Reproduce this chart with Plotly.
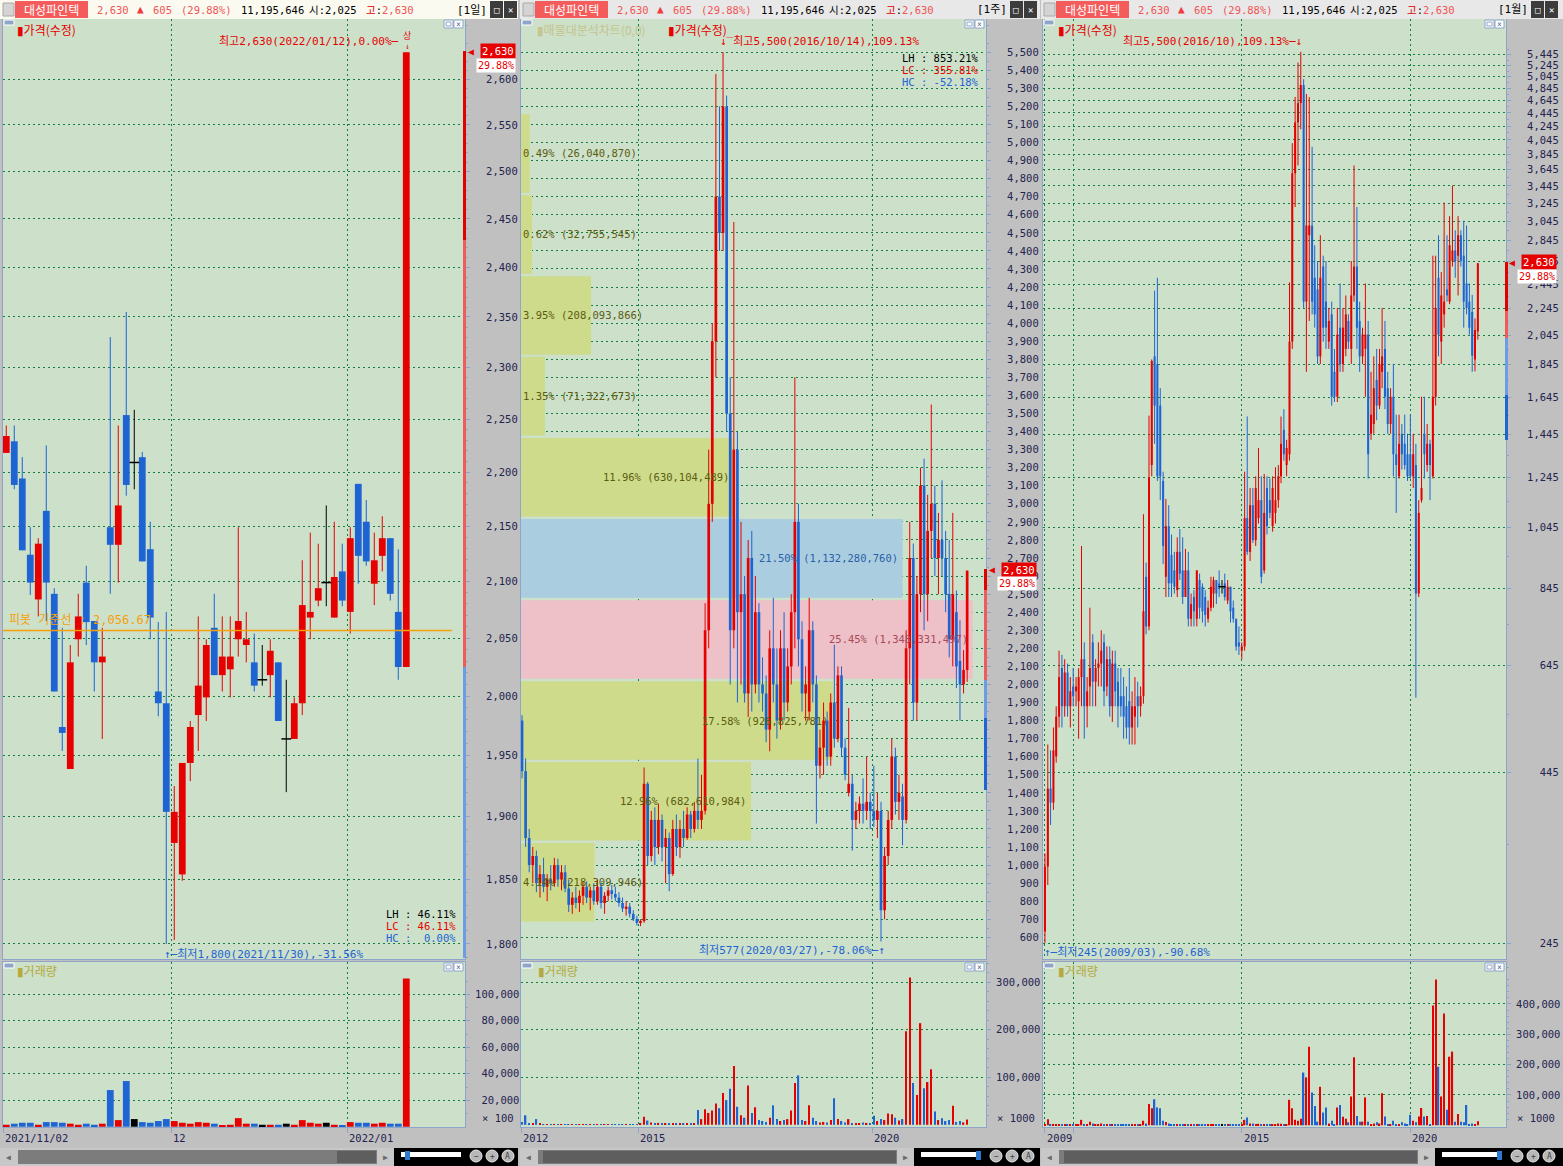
import math
import pandas as pd
import plotly.graph_objects as go

W, H = 1563, 1166
UP, DN, FLAT = "#e60000", "#1e64d2", "#000000"
PLOT_BG = "#cce0ca"
PAPER_BG = "#c0c0c0"
GRID = "#11803f"
GDASH = "2px,3px"
FRAME = "#8ea4c8"
TICK_C = "#23234f"
MONO = "DejaVu Sans Mono, Noto Sans CJK KR, sans-serif"
KR = "Noto Sans CJK KR, DejaVu Sans, sans-serif"
NB = "\u00a0"
DAY = 86400000


def fx(p):
    return p / W


def fy(p):
    return 1 - p / H


# ======================= DATA =======================
stock_name = "대성파인텍"
periods = ["[1일]", "[1주]", "[1월]"]

# ---- daily (1일) ----
d_dates = ["2021-11-02", "2021-11-03", "2021-11-04", "2021-11-05", "2021-11-08", "2021-11-09", "2021-11-10",
           "2021-11-11", "2021-11-12", "2021-11-15", "2021-11-16", "2021-11-17", "2021-11-18", "2021-11-19",
           "2021-11-22", "2021-11-23", "2021-11-24", "2021-11-25", "2021-11-26", "2021-11-29", "2021-11-30",
           "2021-12-01", "2021-12-02", "2021-12-03", "2021-12-06", "2021-12-07", "2021-12-08", "2021-12-09",
           "2021-12-10", "2021-12-13", "2021-12-14", "2021-12-15", "2021-12-16", "2021-12-17", "2021-12-20",
           "2021-12-21", "2021-12-22", "2021-12-23", "2021-12-24", "2021-12-27", "2021-12-28", "2021-12-29",
           "2021-12-30", "2022-01-03", "2022-01-04", "2022-01-05", "2022-01-06", "2022-01-07", "2022-01-10",
           "2022-01-11", "2022-01-12"]
d_open = [2218, 2229, 2194, 2124, 2084, 2164, 2089, 1974, 1939, 2049, 2099, 2065, 2029, 2149, 2133, 2254, 2209,
          2214, 2129, 2004, 1994, 1879, 1854, 1944, 1984, 1999, 2059, 2018, 2023, 2049, 2044, 2029, 2014, 2018,
          2029, 1964, 1964, 1994, 2068, 2083, 2099, 2068, 2109, 2073, 2189, 2154, 2098, 2123, 2139, 2073, 2025]
d_high = [2244, 2244, 2214, 2149, 2139, 2225, 2094, 2059, 2044, 2089, 2114, 2065, 2059, 2330, 2244, 2355, 2259,
          2219, 2154, 2064, 2073, 1925, 1944, 1979, 2069, 2049, 2089, 2069, 2069, 2149, 2073, 2054, 2044, 2049,
          2029, 2014, 1999, 2119, 2144, 2134, 2169, 2154, 2134, 2149, 2189, 2174, 2144, 2159, 2139, 2129, 2630]
d_low = [2218, 2184, 2128, 2088, 2069, 2065, 2004, 1954, 1939, 2034, 2044, 2004, 1964, 2089, 2099, 2178, 2184,
         2118, 2049, 1983, 1800, 1803, 1849, 1929, 1954, 1979, 2018, 2004, 1999, 2034, 2029, 2004, 2009, 1999,
         1979, 1920, 1964, 1984, 2049, 2078, 2078, 2068, 2078, 2054, 2098, 2114, 2079, 2109, 2083, 2014, 2025]
d_close = [2234, 2188, 2128, 2099, 2134, 2099, 2004, 1969, 2029, 2069, 2064, 2029, 2034, 2133, 2169, 2188, 2209,
           2118, 2068, 1994, 1904, 1904, 1944, 1974, 2009, 2044, 2018, 2034, 2034, 2065, 2049, 2009, 2014, 2039,
           1979, 1964, 1994, 2079, 2073, 2094, 2099, 2104, 2083, 2139, 2123, 2118, 2119, 2139, 2089, 2025, 2630]
d_vol = [1500, 2300, 3000, 3000, 1500, 3500, 3500, 3000, 2300, 1500, 2300, 1500, 2300, 27700, 5000, 34500, 5800,
         3500, 3000, 4300, 5800, 4300, 3000, 2300, 3500, 3000, 2300, 800, 1500, 6500, 2300, 2300, 1500, 1500,
         1500, 2300, 1500, 5000, 3000, 2300, 3000, 1500, 800, 3500, 3000, 3000, 2300, 3000, 2300, 2300, 111956]
d_tick_dates = ["2021-11-02", "2021-12-01", "2022-01-03"]
d_tick_text = ["2021/11/02", "12", "2022/01"]
d_price_ticks = list(range(1800, 2601, 50))
d_vol_ticks = [20000, 40000, 60000, 80000, 100000]
pivot_value = 2056.67

# ---- weekly (1주), one entry per 4 weeks ----
w_dates = pd.date_range("2012-07-09", periods=125, freq="28D")
w_open = [1800, 1520, 1150, 1000, 1050, 900, 950, 880, 920, 900,
          1000, 920, 960, 870, 780, 820, 790, 830, 880, 820,
          860, 800, 880, 790, 830, 860, 840, 820, 790, 760,
          770, 730, 700, 680, 690, 1450, 1050, 1250, 1100, 1250,
          1100, 1150, 950, 1200, 1100, 1200, 1150, 1280, 1200, 1300,
          1250, 1300, 2300, 3000, 3900, 4700, 4500, 5200, 3500, 2300,
          3300, 2400, 2500, 1950, 2700, 2000, 2400, 2000, 1950, 1750,
          2200, 2000, 1800, 2200, 1900, 2100, 2400, 2900, 2250, 1950,
          1850, 2300, 2000, 1550, 1650, 1800, 1600, 1900, 1700, 2050,
          1650, 1400, 1450, 1250, 1300, 1340, 1300, 1350, 1300, 1250,
          1300, 750, 1050, 1250, 1600, 1350, 1380, 1250, 2200, 2700,
          1900, 2500, 3100, 2500, 2850, 3000, 2700, 2800, 2700, 2500,
          2250, 2400, 2130, 2000, 2080]
w_high = [1830, 1590, 1200, 1100, 1080, 1000, 1040, 950, 1000, 1040,
          1035, 1000, 1000, 920, 850, 880, 860, 910, 910, 880,
          900, 920, 900, 850, 880, 890, 880, 850, 820, 800,
          790, 750, 720, 700, 1540, 1460, 1300, 1320, 1340, 1280,
          1200, 1180, 1250, 1280, 1250, 1300, 1320, 1300, 1350, 1590,
          1500, 2450, 3300, 4000, 5380, 5200, 5500, 5260, 3700, 4560,
          3400, 2900, 2600, 2800, 2850, 2600, 2450, 2150, 2050, 2300,
          2480, 2200, 2300, 2400, 2200, 2500, 3700, 3000, 2350, 2100,
          2480, 2350, 2050, 1750, 1900, 1850, 1950, 2220, 2100, 2100,
          1700, 1870, 1500, 1350, 1380, 1480, 1600, 1400, 1550, 1400,
          1350, 1100, 1300, 1700, 1650, 1500, 1450, 2300, 2900, 2780,
          2600, 3200, 3250, 3050, 3550, 3100, 2950, 3130, 2850, 2800,
          2950, 2520, 2355, 2190, 2630]
w_low = [1480, 1100, 960, 900, 850, 820, 850, 800, 860, 880,
         880, 860, 850, 740, 730, 760, 740, 780, 790, 750,
         780, 780, 760, 730, 800, 810, 800, 770, 740, 720,
         710, 690, 665, 662, 680, 1000, 1020, 1000, 1060, 1020,
         900, 855, 940, 1050, 1040, 1100, 1140, 1150, 1180, 1200,
         1200, 1280, 2200, 2900, 3700, 4400, 4400, 3400, 2000, 2200,
         1900, 2000, 1900, 1820, 1850, 1950, 1900, 1850, 1680, 1630,
         1900, 1700, 1750, 1800, 1850, 2000, 2200, 2100, 1850, 1800,
         1800, 1900, 1230, 1480, 1500, 1550, 1550, 1650, 1680, 1600,
         1470, 1380, 1080, 1200, 1230, 1230, 1250, 1200, 1210, 1150,
         577, 700, 1000, 1200, 1280, 1250, 1110, 1230, 2000, 1800,
         1800, 2400, 2300, 2350, 2700, 2600, 2500, 2600, 2400, 2150,
         2100, 1980, 1800, 1950, 2014]
w_close = [1520, 1150, 1000, 1050, 900, 950, 880, 920, 900, 1000,
           920, 960, 870, 780, 820, 790, 830, 880, 820, 860,
           800, 880, 790, 830, 860, 840, 820, 790, 760, 770,
           730, 700, 680, 690, 1450, 1050, 1250, 1100, 1250, 1100,
           1150, 950, 1200, 1100, 1200, 1150, 1280, 1200, 1300, 1250,
           1300, 2300, 3000, 3900, 4700, 4500, 5200, 3500, 2300, 3300,
           2400, 2500, 1950, 2700, 2000, 2400, 2000, 1950, 1750, 2200,
           2000, 1800, 2200, 1900, 2100, 2400, 2900, 2250, 1950, 2000,
           2300, 2000, 1550, 1650, 1800, 1600, 1900, 1700, 2050, 1650,
           1500, 1450, 1250, 1300, 1340, 1300, 1350, 1300, 1250, 1300,
           750, 1050, 1250, 1600, 1350, 1400, 1250, 2200, 2700, 1900,
           2500, 3100, 2500, 2850, 3000, 2700, 2800, 2700, 2500, 2250,
           2500, 2100, 2000, 2080, 2630]
w_vol = [6000, 20000, 4000, 3000, 12000, 2000, 1500, 1500, 1000, 1500,
         1000, 1000, 1000, 1500, 1000, 1000, 1000, 1200, 1000, 1000,
         1000, 1000, 1000, 1000, 1000, 1000, 1000, 1000, 1000, 1000,
         1200, 1500, 1500, 2000, 17000, 9000, 5000, 3000, 4000, 2500,
         3000, 4000, 2000, 2000, 2000, 3000, 2000, 2500, 3000, 31000,
         12000, 33000, 25000, 30000, 45000, 35000, 67000, 52000, 76000, 124000,
         38000, 20000, 15000, 83000, 25000, 37000, 10000, 8000, 6000, 15000,
         41000, 12000, 8000, 10000, 12000, 30000, 88000, 104000, 10000, 8000,
         41000, 15000, 8000, 5000, 6000, 5000, 10000, 56000, 12000, 8000,
         5000, 12000, 4000, 3000, 3000, 5000, 4000, 3000, 19000, 8000,
         12000, 10000, 24000, 22000, 15000, 9000, 12000, 197000, 310000, 88000,
         63000, 214000, 77000, 90000, 117000, 28000, 10000, 14000, 8000, 10000,
         40000, 6000, 8000, 5000, 11196]
w_tick_dates = ["2012-07-04", "2015-01-01", "2020-01-01"]
w_tick_text = ["2012", "2015", "2020"]
w_price_ticks = list(range(600, 5501, 100))
w_vol_ticks = [100000, 200000, 300000]

# volume profile (매물대)
vp_price = [4940, 4491, 4043, 3596, 3147, 2698, 2249, 1800, 1353, 905]
vp_pct = [0.49, 0.62, 3.95, 1.35, 11.96, 21.50, 25.45, 17.58, 12.96, 4.14]
vp_vol = [26040870, 32755545, 208093866, 71322673, 630104489, 1132280760, 1348331497, 926825781,
          682610984, 218309946]
vp_band = 435

# ---- monthly (1월) ----
m_dates = pd.date_range("2009-03-01", periods=155, freq="MS")
m_open = [255, 320, 420, 400, 470, 540, 640, 560, 630, 560,
          600, 590, 570, 620, 660, 560, 600, 700, 610, 640,
          650, 700, 600, 660, 560, 650, 610, 580, 580, 560,
          570, 520, 540, 580, 560, 580, 880, 740, 1300, 1900,
          1850, 1600, 1230, 880, 1050, 950, 900, 840, 960, 900,
          820, 900, 760, 820, 760, 870, 850, 820, 760, 790,
          830, 870, 860, 850, 860, 810, 850, 790, 760, 700,
          680, 690, 1080, 960, 1130, 1000, 1080, 1150, 900, 1200,
          1150, 1050, 1100, 1150, 1250, 1470, 1300, 1350, 2000, 3600,
          4300, 4600, 4900, 2300, 2900, 3000, 2500, 2400, 1900, 2600,
          2300, 2000, 2200, 1800, 1650, 2100, 1850, 1950, 2150, 1950,
          2350, 2600, 2150, 1900, 1950, 2050, 1450, 1500, 1750, 1600,
          1800, 1950, 1700, 1500, 1650, 1350, 1250, 1450, 1400, 1350,
          1350, 1250, 1300, 830, 1150, 1450, 1300, 1400, 1250, 1650,
          2500, 2000, 2200, 2400, 2300, 2650, 2750, 2700, 2900, 2700,
          2450, 2300, 2218, 1879, 2073]
m_high = [335, 490, 480, 520, 560, 680, 670, 660, 650, 620,
          640, 620, 640, 980, 700, 620, 790, 720, 660, 700,
          730, 720, 690, 690, 680, 680, 640, 640, 620, 600,
          640, 590, 620, 610, 600, 1095, 925, 1545, 1880, 2390,
          2500, 1700, 1270, 1155, 1130, 1020, 960, 1010, 1040, 1010,
          970, 960, 830, 840, 900, 890, 860, 840, 810, 880,
          880, 870, 900, 870, 890, 870, 850, 810, 760, 740,
          700, 1270, 1540, 1200, 1200, 1250, 1380, 1250, 1260, 1250,
          1240, 1250, 1290, 1300, 1540, 1580, 1420, 2460, 4000, 4700,
          5300, 5500, 5000, 4750, 4700, 3950, 2800, 2650, 2900, 2700,
          2650, 2250, 2300, 1950, 2250, 2450, 2250, 2350, 2200, 2650,
          3700, 3200, 2300, 2100, 2450, 2150, 1800, 1900, 1950, 1950,
          2250, 2150, 1800, 1700, 1850, 1550, 1550, 1500, 1550, 1450,
          1550, 1450, 1400, 1150, 1650, 1650, 1500, 1420, 2700, 2700,
          2900, 2550, 3250, 2900, 3100, 3450, 2950, 3100, 2950, 3050,
          3000, 2450, 2355, 2169, 2630]
m_low = [245, 300, 370, 390, 460, 520, 520, 540, 540, 520,
         560, 560, 500, 560, 500, 520, 560, 560, 560, 600,
         600, 560, 580, 540, 530, 560, 520, 540, 500, 500,
         490, 490, 490, 520, 540, 565, 720, 730, 1250, 1400,
         1230, 1150, 920, 820, 820, 820, 830, 820, 870, 800,
         820, 740, 740, 740, 740, 760, 750, 740, 750, 780,
         790, 800, 820, 830, 810, 800, 750, 750, 680, 670,
         660, 680, 950, 930, 990, 980, 1060, 860, 890, 1020,
         1080, 1030, 1060, 1120, 1220, 1320, 1250, 1320, 1950, 3200,
         3700, 4200, 2250, 1800, 2150, 2200, 2100, 1850, 1850, 2000,
         1950, 1950, 1600, 1620, 1620, 1800, 1800, 1900, 1950, 1850,
         2300, 1950, 1800, 1850, 1650, 1240, 1420, 1450, 1520, 1580,
         1700, 1580, 1450, 1450, 1250, 1100, 1240, 1280, 1280, 1230,
         1240, 1200, 577, 820, 1140, 1240, 1270, 1150, 1240, 1600,
         1900, 1850, 2100, 2300, 2280, 2600, 2500, 2350, 2600, 2100,
         2200, 2050, 1800, 1803, 2014]
m_close = [320, 420, 400, 480, 540, 620, 560, 630, 560, 590,
           580, 600, 620, 660, 560, 590, 640, 610, 640, 650,
           680, 590, 660, 560, 650, 590, 560, 560, 540, 520,
           520, 560, 560, 560, 580, 780, 740, 1245, 1870, 1600,
           1250, 1250, 980, 1050, 860, 860, 850, 960, 890, 820,
           900, 760, 800, 780, 900, 790, 780, 770, 790, 850,
           870, 830, 850, 850, 820, 850, 780, 760, 690, 690,
           690, 1080, 960, 1130, 1000, 1200, 1150, 880, 1100, 1050,
           1100, 1200, 1150, 1250, 1400, 1350, 1380, 2000, 3600, 4300,
           4600, 4900, 2300, 3000, 3000, 2300, 2200, 1900, 2500, 2100,
           2100, 2150, 1650, 1650, 2050, 1850, 2100, 2200, 2000, 2350,
           2600, 2100, 1900, 2050, 2050, 1350, 1550, 1700, 1600, 1850,
           1900, 1650, 1500, 1650, 1350, 1300, 1400, 1350, 1300, 1250,
           1250, 1350, 830, 1100, 1200, 1350, 1400, 1300, 1650, 2250,
           2050, 2350, 2300, 2350, 2800, 2750, 2650, 2900, 2650, 2300,
           2250, 2100, 1904, 2083, 2630]
m_vol = [3000, 20000, 3000, 2000, 2000, 4000, 4000, 3000, 3000, 2000,
         2000, 2000, 2000, 18000, 4000, 2000, 12000, 6000, 2000, 2000,
         6000, 2000, 2000, 2000, 2000, 2000, 2000, 2000, 2000, 2000,
         3000, 2000, 2000, 2000, 2000, 15000, 6000, 70000, 56000, 86000,
         59000, 56000, 15000, 11000, 6000, 4000, 3000, 2000, 4000, 2000,
         4000, 2000, 2000, 2000, 2000, 2000, 2000, 2000, 2000, 2000,
         2000, 2000, 2000, 2000, 2000, 2000, 2000, 2000, 2000, 2000,
         2000, 18000, 26000, 6000, 6000, 3000, 5000, 3000, 2000, 2000,
         3000, 2000, 2000, 6000, 5000, 4000, 2000, 84000, 56000, 18000,
         15000, 22000, 174000, 158000, 259000, 108000, 64000, 12000, 127000, 42000,
         59000, 6000, 15000, 4000, 59000, 67000, 28000, 22000, 10000, 95000,
         224000, 31000, 12000, 12000, 92000, 12000, 4000, 6000, 10000, 6000,
         106000, 29000, 4000, 2000, 15000, 2000, 4000, 10000, 6000, 3000,
         35000, 15000, 10000, 29000, 57000, 29000, 31000, 4000, 395000, 481000,
         193000, 95000, 369000, 51000, 226000, 243000, 12000, 37000, 12000, 10000,
         67000, 4000, 6000, 2000, 13000]
m_tick_dates = ["2009-03-01", "2010-01-01", "2015-01-01", "2020-01-01"]
m_tick_text = ["2009", "", "2015", "2020"]
m_price_ticks = list(range(245, 5446, 200))
m_vol_ticks = [100000, 200000, 300000, 400000]

assert len(d_dates) == len(d_open) == len(d_high) == len(d_low) == len(d_close) == len(d_vol) == 51
assert len(w_open) == len(w_high) == len(w_low) == len(w_close) == len(w_vol) == 125
assert len(m_open) == len(m_high) == len(m_low) == len(m_close) == len(m_vol) == 155

# ======================= FIGURE =======================
fig = go.Figure()


def ccolor(o, c):
    return UP if c > o else (DN if c < o else FLAT)


def add_candles(x, o, h, l, c, xa, ya, body_w, wick_w=1, doji=6):
    groups = {UP: [], DN: [], FLAT: []}
    for i in range(len(x)):
        groups[ccolor(o[i], c[i])].append(i)
    for col, idx in groups.items():
        if not idx:
            continue
        wx, wy = [], []
        for i in idx:
            wx += [x[i], x[i], None]
            wy += [l[i], h[i], None]
        fig.add_trace(go.Scatter(x=wx, y=wy, mode="lines", line=dict(color=col, width=wick_w),
                                 xaxis=xa, yaxis=ya, hoverinfo="skip", showlegend=False))
        if col == FLAT:
            fig.add_trace(go.Scatter(x=[x[i] for i in idx], y=[c[i] for i in idx], mode="markers",
                                     marker=dict(symbol="line-ew", size=doji, color=col,
                                                 line=dict(color=col, width=1.5)),
                                     xaxis=xa, yaxis=ya, hoverinfo="skip", showlegend=False))
        else:
            fig.add_trace(go.Bar(x=[x[i] for i in idx], y=[abs(c[i] - o[i]) for i in idx],
                                 base=[min(o[i], c[i]) for i in idx], width=body_w,
                                 marker=dict(color=col, line=dict(width=0)),
                                 xaxis=xa, yaxis=ya, hoverinfo="skip", showlegend=False))


def add_volume(x, o, c, v, xa, ya, width):
    fig.add_trace(go.Bar(x=x, y=v, width=width,
                         marker=dict(color=[ccolor(o[i], c[i]) for i in range(len(x))], line=dict(width=0)),
                         xaxis=xa, yaxis=ya, hoverinfo="skip", showlegend=False))


# --- volume profile on middle price panel (base axis x3) ---
vp_fill = ["#cddb8a"] * 5 + ["#aacee0", "#eec0c8"] + ["#cddb8a"] * 3
fig.add_trace(go.Bar(orientation="h", y=vp_price, x=vp_pct, base=0, width=vp_band,
                     marker=dict(color=vp_fill, line=dict(width=0)),
                     xaxis="x3", yaxis="y3", hoverinfo="skip", showlegend=False))

# --- daily ---
d_x = list(range(len(d_dates)))
add_candles(d_x, d_open, d_high, d_low, d_close, "x", "y", 0.85, 1, 7)
add_volume(d_x, d_open, d_close, d_vol, "x2", "y2", 0.85)
fig.add_trace(go.Scatter(x=[-0.41, 55.7], y=[pivot_value, pivot_value], mode="lines",
                         line=dict(color="#f5a00a", width=1.5), xaxis="x", yaxis="y",
                         hoverinfo="skip", showlegend=False))

# --- weekly ---
w_x = [d.strftime("%Y-%m-%d") for d in w_dates]
add_candles(w_x, w_open, w_high, w_low, w_close, "x4", "y3", 21 * DAY, 1, 5)
add_volume(w_x, w_open, w_close, w_vol, "x5", "y5", 11 * DAY)

# --- monthly ---
m_x = [d.strftime("%Y-%m-%d") for d in m_dates]
add_candles(m_x, m_open, m_high, m_low, m_close, "x6", "y6", 22 * DAY, 1, 5)
add_volume(m_x, m_open, m_close, m_vol, "x7", "y7", 14 * DAY)

# ======================= AXES =======================
L_X = [fx(3), fx(465)]
M_X = [fx(521), fx(986)]
R_X = [fx(1043), fx(1506)]
P_Y = [fy(959), fy(19)]
V_Y = [fy(1127), fy(962)]


def xgrid(domain, anchor, rng, tickvals, typ="linear", ticks=""):
    return dict(domain=domain, anchor=anchor, range=rng, type=typ, tickmode="array", tickvals=tickvals,
                showticklabels=False, ticks=ticks, ticklen=5, tickcolor=FRAME, showgrid=True,
                gridcolor=GRID, griddash=GDASH, gridwidth=1, zeroline=False, showline=True,
                linecolor=FRAME, mirror=True, fixedrange=True)


def yax(domain, anchor, rng, vals, nchar, standoff, minor_vals, typ="linear"):
    return dict(domain=domain, anchor=anchor, range=rng, type=typ, side="right", tickmode="array",
                tickvals=vals, ticktext=[f"{v:,}".rjust(nchar, NB) for v in vals],
                ticks="outside", ticklen=4, tickcolor=FRAME, tickwidth=1,
                tickfont=dict(family=MONO, size=10.5, color=TICK_C), ticklabelstandoff=standoff,
                minor=dict(tickmode="array", tickvals=minor_vals, ticks="outside", ticklen=2,
                           tickcolor=FRAME, showgrid=False),
                showgrid=True, gridcolor=GRID, griddash=GDASH, gridwidth=1, zeroline=False,
                showline=True, linecolor=FRAME, mirror=True, fixedrange=True)


d_grid = [d_dates.index(t) - 0.35 for t in d_tick_dates]
w_range = ["2012-07-01", "2022-06-06"]
m_range = ["2009-02-08", "2022-11-02"]

layout_axes = dict(
    xaxis=xgrid(L_X, "y", [-0.41, 57.34], d_grid),
    yaxis=yax(P_Y, "x", [math.log10(1788.5), math.log10(2667.5)], d_price_ticks, 5, 14,
              [v for v in range(1790, 2670, 10) if v % 50], "log"),
    xaxis2=xgrid(L_X, "y2", [-0.41, 57.34], d_grid, ticks="outside"),
    yaxis2=yax(V_Y, "x2", [-200, 124400], d_vol_ticks, 7, 3,
               [v for v in range(10000, 120001, 10000) if v % 20000]),
    xaxis3=dict(domain=M_X, anchor="y3", range=[0, 26.2], showgrid=False, showticklabels=False, ticks="",
                zeroline=False, showline=True, linecolor=FRAME, mirror=True, fixedrange=True),
    xaxis4=dict(overlaying="x3", anchor="y3", type="date", range=w_range, tickmode="array",
                tickvals=w_tick_dates, showticklabels=False, ticks="", showgrid=True, gridcolor=GRID,
                griddash=GDASH, zeroline=False, showline=False, fixedrange=True),
    yaxis3=yax(P_Y, "x3", [480, 5684], w_price_ticks, 5, 14,
               [v for v in range(550, 5651, 50) if v % 100]),
    xaxis5=xgrid(M_X, "y5", w_range, w_tick_dates, "date", ticks="outside"),
    yaxis5=yax(V_Y, "x5", [-4600, 342700], w_vol_ticks, 7, 3,
               [v for v in range(20000, 340001, 20000) if v % 100000]),
    xaxis6=xgrid(R_X, "y6", m_range, m_tick_dates, "date"),
    yaxis6=yax(P_Y, "x6", [math.log10(231.7), math.log10(6170)], m_price_ticks, 5, 14,
               [v + 100 for v in m_price_ticks], "log"),
    xaxis7=xgrid(R_X, "y7", m_range, m_tick_dates, "date", ticks="outside"),
    yaxis7=yax(V_Y, "x7", [-5600, 538400], m_vol_ticks, 7, 3,
               [v for v in range(20000, 520001, 20000) if v % 100000]),
)

# ======================= ANNOTATIONS / DECOR =======================
anns = []
shapes = []


def pann(text, x, y, color, size=11, family=MONO, xanchor="left", yanchor="middle", **kw):
    d = dict(text=text, x=fx(x), y=fy(y), xref="paper", yref="paper", xanchor=xanchor, yanchor=yanchor,
             showarrow=False, font=dict(family=family, size=size, color=color))
    d.update(kw)
    return d


def rect(x0, y0, x1, y1, fill, line=None, lw=1):
    shapes.append(dict(type="rect", xref="paper", yref="paper", x0=fx(x0), x1=fx(x1), y0=fy(y1), y1=fy(y0),
                       fillcolor=fill, line=dict(color=line or fill, width=lw if line else 0)))


def vseg(x, y0, y1, color, w=3):
    shapes.append(dict(type="line", xref="paper", yref="paper", x0=fx(x), x1=fx(x), y0=fy(y0), y1=fy(y1),
                       line=dict(color=color, width=w)))


def circ(cx, cy, r, fill, line):
    shapes.append(dict(type="circle", xref="paper", yref="paper", x0=fx(cx - r), x1=fx(cx + r),
                       y0=fy(cy + r), y1=fy(cy - r), fillcolor=fill, line=dict(color=line, width=1)))


# headers + scrollbars
cols = [(0, 518, "#fbfaf0", 337, 376, 407), (520, 520, "#e8e8e8", 23, 376, 458),
        (1041, 522, "#e8e8e8", 23, 376, 458)]
for k, (ox, cw, hbg, th0, th1, knob) in enumerate(cols):
    rect(ox, 0, ox + cw, 19, hbg)
    rect(ox + 3, 3, ox + 14, 16, "#d4d4d4", "#a8a8a8")
    rect(ox + 15, 1, ox + 88, 18, "#f45c5c")
    anns.append(pann(stock_name, ox + 51.5, 9.5, "#ffffff", 12, KR, "center"))
    anns.append(pann("2,630", ox + 95, 9.5, "#f05555", 10.5))
    anns.append(pann("▲", ox + 140, 9.5, "#f03c3c", 11, MONO, "center"))
    anns.append(pann("605", ox + 151, 9.5, "#f05555", 10.5))
    anns.append(pann("(29.88%)", ox + 179, 9.5, "#f05555", 10.5))
    anns.append(pann("11,195,646", ox + 239, 9.5, "#000000", 10.5))
    anns.append(pann("시:2,025", ox + 307, 9.5, "#000000", 10.5))
    anns.append(pann("<span style='color:#e00000'>고</span>:<span style='color:#f05555'>2,630</span>",
                     ox + 364, 9.5, "#000000", 10.5))
    anns.append(pann(periods[k], ox + 489, 9.5, "#000000", 11, MONO, "right"))
    rect(ox + 490, 1, ox + 503, 18, "#3c3c3c")
    rect(ox + 504, 1, ox + 517, 18, "#3c3c3c")
    anns.append(pann("□", ox + 496.5, 9.5, "#ffffff", 9, MONO, "center"))
    anns.append(pann("✕", ox + 510.5, 9.5, "#ffffff", 9, MONO, "center"))
    # scroll bar
    rect(ox, 1148, ox + cw, 1166, "#c8c8c8")
    anns.append(pann("◀", ox + 8, 1157, "#6a6a6a", 8, MONO, "center"))
    rect(ox + 18, 1150, ox + 377, 1164, "#7c7c7c")
    rect(ox + th0, 1151, ox + th1, 1163, "#5e5e5e")
    anns.append(pann("▶", ox + 385, 1157, "#6a6a6a", 8, MONO, "center"))
    rect(ox + 394, 1148, ox + cw, 1166, "#000000")
    rect(ox + 401, 1152, ox + 461, 1157, "#ffffff")
    rect(ox + knob - 2, 1151, ox + knob + 3, 1160, "#2a7ad0")
    for j, sym in enumerate(["−", "+", "A"]):
        circ(ox + 476 + 16 * j, 1156, 6, "#b8b8b8", "#e8e8e8")
        anns.append(pann(sym, ox + 476 + 16 * j, 1156, "#404040", 8, MONO, "center"))

# panel icons
for (px0, px1) in [(3, 465), (521, 986), (1043, 1506)]:
    for py0 in (19, 962):
        rect(px0 + 1, py0 + 1, px0 + 11, py0 + 6, "#8ea4c8", "#ffffff")
        rect(px1 - 21, py0 + 1, px1 - 12, py0 + 9, "#ffffff", FRAME)
        rect(px1 - 19, py0 + 3, px1 - 14, py0 + 7, "#ffffff", FRAME)
        rect(px1 - 11, py0 + 1, px1 - 2, py0 + 9, "#ffffff", FRAME)
        anns.append(pann("×", px1 - 6.5, py0 + 5, "#5a6a90", 8, MONO, "center"))

# titles
anns.append(pann("▮가격(수정)", 15, 29, UP, 12, KR))
anns.append(pann("▮매물대분석차트(0,0)", 535, 29, "#c5c58c", 12, KR))
anns.append(pann("▮가격(수정)", 666, 29, UP, 12, KR))
anns.append(pann("▮가격(수정)", 1056, 29, UP, 12, KR))
for xx in (15, 536, 1056):
    anns.append(pann("▮거래량", xx, 970, "#b5a93c", 12, KR))

# left price texts
anns.append(pann("최고2,630(2022/01/12),0.00%─", 401, 42, UP, 11, MONO, "right"))
anns.append(pann("상", 407, 36, UP, 9, KR, "center"))
anns.append(pann("↓", 407, 46, UP, 8, MONO, "center"))
anns.append(pann("↑─최저1,800(2021/11/30),-31.56%", 162, 954, DN, 11))
anns.append(pann("LH : 46.11%", 384, 914, "#000000", 10.5))
anns.append(pann("LC : 46.11%", 384, 926, UP, 10.5))
anns.append(pann("HC :" + NB + NB + "0.00%", 384, 938, DN, 10.5))
anns.append(dict(text="피봇 기준선 : 2,056.67", x=0.05, xref="x", y=math.log10(pivot_value), yref="y",
                 xanchor="left", yanchor="bottom", yshift=1, showarrow=False,
                 font=dict(family=MONO, size=12, color="#f5a00a")))

# middle price texts
anns.append(pann("↓‾최고5,500(2016/10/14),109.13%", 718, 42, UP, 11))
anns.append(pann("LH : 853.21%", 900, 58, "#000000", 10.5))
anns.append(pann("LC : 355.81%", 900, 70, UP, 10.5))
anns.append(pann("HC : -52.18%", 900, 82, DN, 10.5))
anns.append(pann("최저577(2020/03/27),-78.06%─↑", 887, 951, DN, 11, MONO, "right"))

# right price texts
anns.append(pann("최고5,500(2016/10),109.13%─↓", 1304, 42, UP, 11, MONO, "right"))
anns.append(pann("↑─최저245(2009/03),-90.68%", 1042, 952, DN, 11))

# volume profile labels
vp_text_col = ["#5c5c10"] * 5 + ["#2a5ea8", "#a84a5a"] + ["#5c5c10"] * 3
for i in range(len(vp_pct)):
    txt = f"{vp_pct[i]:.2f}% ({vp_vol[i]:,})"
    if vp_pct[i] >= 10:
        anns.append(dict(text=txt, x=vp_pct[i] - 0.15, xref="x3", y=vp_price[i], yref="y3", xanchor="right",
                         yanchor="middle", showarrow=False,
                         font=dict(family=MONO, size=10.5, color=vp_text_col[i])))
    else:
        anns.append(dict(text=txt, x=0, xref="x3", y=vp_price[i], yref="y3", xanchor="left",
                         yanchor="middle", showarrow=False,
                         font=dict(family=MONO, size=10.5, color=vp_text_col[i])))

# price tags on axes
last = 2630
for yref, yval, xr in [("y", math.log10(last), 516), ("y3", last, 1037), ("y6", math.log10(last), 1557)]:
    anns.append(dict(text=f"{last:,}", x=fx(xr), xref="paper", y=yval, yref=yref, xanchor="right",
                     yanchor="middle", yshift=1, showarrow=False, bgcolor=UP, borderpad=1,
                     font=dict(family=MONO, size=10.5, color="#ffffff")))
    anns.append(dict(text="29.88%", x=fx(xr), xref="paper", y=yval, yref=yref, xanchor="right",
                     yanchor="middle", yshift=-13, showarrow=False, bgcolor="#ffffff", borderpad=1,
                     font=dict(family=MONO, size=10, color=UP)))
    anns.append(dict(text="◀", x=fx(xr - 45), xref="paper", y=yval, yref=yref, xanchor="center",
                     yanchor="middle", yshift=1, showarrow=False,
                     font=dict(family=MONO, size=10, color=UP)))

# volume unit labels
anns.append(pann("×" + NB + "100", 516, 1118, TICK_C, 10.5, MONO, "right"))
anns.append(pann("×" + NB + "1000", 1037, 1118, TICK_C, 10.5, MONO, "right"))
anns.append(pann("×" + NB + "1000", 1557, 1118, TICK_C, 10.5, MONO, "right"))

# date labels
for xv, t in zip(d_grid, d_tick_text):
    anns.append(dict(text=t, x=xv, xref="x2", y=fy(1138), yref="paper", xanchor="left", yanchor="middle",
                     showarrow=False, font=dict(family=MONO, size=10.5, color=TICK_C)))
for xv, t in zip(w_tick_dates, w_tick_text):
    anns.append(dict(text=t, x=xv, xref="x5", y=fy(1138), yref="paper", xanchor="left", yanchor="middle",
                     showarrow=False, font=dict(family=MONO, size=10.5, color=TICK_C)))
for xv, t in zip(m_tick_dates, m_tick_text):
    if t:
        anns.append(dict(text=t, x=xv, xref="x7", y=fy(1138), yref="paper", xanchor="left",
                         yanchor="middle", showarrow=False, font=dict(family=MONO, size=10.5, color=TICK_C)))

# current-range indicators on the price axes
vseg(464.5, 51, 240, "#e00000")
vseg(464.5, 240, 667, "#f05a5a")
vseg(464.5, 667, 958, "#6c9ce6")
vseg(985.5, 569, 590, "#e00000")
vseg(985.5, 590, 680, "#f05a5a")
vseg(985.5, 680, 718, "#6c9ce6")
vseg(985.5, 718, 790, "#1e64d2")
vseg(1506.5, 262, 311, "#e00000")
vseg(1506.5, 311, 338, "#f05a5a")
vseg(1506.5, 338, 395, "#6c9ce6")
vseg(1506.5, 395, 440, "#1e64d2")

fig.update_layout(
    width=W, height=H, margin=dict(l=0, r=0, t=0, b=0),
    paper_bgcolor=PAPER_BG, plot_bgcolor=PLOT_BG, showlegend=False, barmode="overlay",
    annotations=anns, shapes=shapes, **layout_axes,
)

fig.write_html(
    "out.html",
    config={"displayModeBar": False},
    post_script="document.body.style.margin='0';document.body.style.padding='0';"
                "document.documentElement.style.margin='0';document.body.style.overflow='hidden';",
)
